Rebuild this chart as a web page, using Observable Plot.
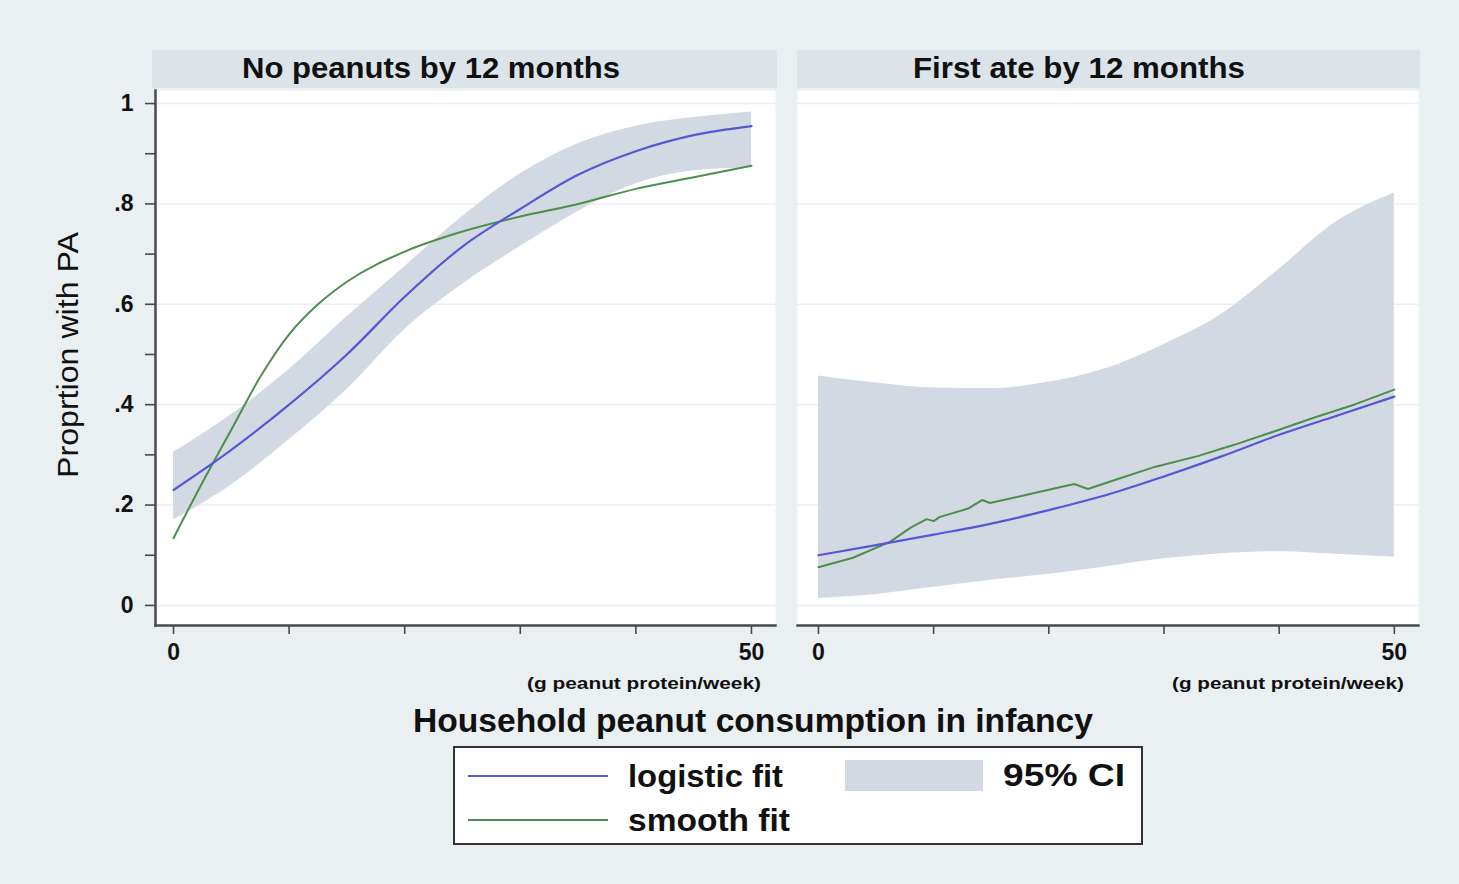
<!DOCTYPE html>
<html>
<head>
<meta charset="utf-8">
<script src="https://cdn.jsdelivr.net/npm/d3@7"></script>
<script src="https://cdn.jsdelivr.net/npm/@observablehq/plot@0.6"></script>
<style>
  html, body { margin: 0; padding: 0; background: #eaeff2; }
  #page { position: relative; width: 1459px; height: 884px; overflow: hidden; background: #eaeff2;
          font-family: "Liberation Sans", Arial, sans-serif; color: #111; }
  .abs { position: absolute; }
</style>
</head>
<body>
<div id="page"></div>
<script>
// ---------------- data ----------------
const panelTitles = ["No peanuts by 12 months", "First ate by 12 months"];
const xTitle = "Household peanut consumption in infancy";
const yTitle = "Proprtion with PA";
const xUnit = "(g peanut protein/week)";
const legendLabels = ["logistic fit", "smooth fit", "95% CI"];

const xTicks = [0, 10, 20, 30, 40, 50];
const xLabelled = [0, 50];
const yMajor = [0, 0.2, 0.4, 0.6, 0.8, 1];
const yMajorLabels = ["0", ".2", ".4", ".6", ".8", "1"];
const yMinor = [0.1, 0.3, 0.5, 0.7, 0.9];

const gridX = [0, 5, 10, 15, 20, 25, 30, 35, 40, 45, 50];

// Left panel: No peanuts by 12 months
const leftLogistic = [0.23, 0.31, 0.40, 0.50, 0.615, 0.715, 0.79, 0.858, 0.905, 0.937, 0.955];
const leftCILow    = [0.17, 0.24, 0.33, 0.43, 0.55, 0.64, 0.715, 0.785, 0.84, 0.866, 0.872];
const leftCIHigh   = [0.305, 0.38, 0.47, 0.575, 0.675, 0.775, 0.86, 0.92, 0.955, 0.972, 0.983];
const leftSmoothX  = [0, 2.5, 5, 7.5, 10, 12.5, 15, 20, 25, 30, 35, 40, 45, 50];
const leftSmoothY  = [0.134, 0.245, 0.35, 0.455, 0.54, 0.60, 0.645, 0.705, 0.745, 0.775, 0.80, 0.83, 0.853, 0.876];

// Right panel: First ate by 12 months
const rightLogistic = [0.10, 0.12, 0.141, 0.163, 0.19, 0.22, 0.257, 0.297, 0.34, 0.378, 0.416];
const rightCILow    = [0.014, 0.022, 0.036, 0.05, 0.062, 0.077, 0.093, 0.103, 0.107, 0.102, 0.096];
const rightCIHigh   = [0.457, 0.443, 0.433, 0.432, 0.445, 0.472, 0.52, 0.58, 0.67, 0.765, 0.822];
const rightSmoothX  = [0, 3, 6.25, 8, 9.4, 10, 10.5, 13, 14.2, 14.9, 18, 22.2, 23.4, 26, 29.2, 33, 36.1, 40, 43, 46.5, 50];
const rightSmoothY  = [0.076, 0.095, 0.127, 0.155, 0.172, 0.168, 0.176, 0.193, 0.21, 0.204, 0.22, 0.242, 0.232, 0.252, 0.276, 0.298, 0.32, 0.35, 0.374, 0.40, 0.43];

// ---------------- styles ----------------
const BLUE = "#5656d6";
const GREEN = "#4c8f4c";
const BAND = "#d2d9e2";
const HEADER = "#dce4ea";
const AXIS = "#4a4a4a";
const GRID = "#eceff2";

const page = document.getElementById("page");

function toRows(xs, ys) { return xs.map((x, i) => ({x, y: ys[i]})); }
function toBand(xs, lo, hi) { return xs.map((x, i) => ({x, lo: lo[i], hi: hi[i]})); }

function panel({xDomain, band, logistic, smooth, smoothCurve, showY, width, marginLeft}) {
  const marks = [
    Plot.frame({fill: "white", stroke: "none"}),
    Plot.gridY(yMajor, {stroke: GRID, strokeOpacity: 1, strokeWidth: 1.5}),
    Plot.areaY(band, {x: "x", y1: "lo", y2: "hi", fill: BAND, curve: "monotone-x"}),
    Plot.line(smooth, {x: "x", y: "y", stroke: GREEN, strokeWidth: 2, curve: smoothCurve}),
    Plot.line(logistic, {x: "x", y: "y", stroke: BLUE, strokeWidth: 2.2, curve: "monotone-x"}),
    Plot.axisX({ticks: xTicks, tickSize: 9, tickPadding: 9, label: null, stroke: AXIS, strokeWidth: 1.6,
      tickFormat: d => xLabelled.includes(d) ? String(d) : ""}),
    Plot.frame({anchor: "bottom", stroke: AXIS, strokeWidth: 2.5})
  ];
  if (showY) {
    marks.push(
      Plot.axisY({ticks: yMajor, tickSize: 10, tickPadding: 12, label: null, stroke: AXIS, strokeWidth: 1.6,
        tickFormat: (d) => yMajorLabels[yMajor.indexOf(d)]}),
      Plot.axisY({ticks: yMinor, tickSize: 10, tickPadding: 12, label: null, stroke: AXIS, strokeWidth: 1.6,
        tickFormat: () => ""}),
      Plot.frame({anchor: "left", stroke: AXIS, strokeWidth: 2.5})
    );
  }
  return Plot.plot({
    width, height: 620,
    marginTop: 5, marginBottom: 80, marginLeft, marginRight: 10,
    x: {domain: xDomain, label: null},
    y: {domain: [-0.04, 1.026], label: null, ...(showY ? {} : {axis: null})},
    style: {background: "transparent", fontFamily: "'Liberation Sans', Arial, sans-serif",
            fontSize: "23px", fontWeight: "bold", color: "#111", overflow: "visible"},
    marks
  });
}

const left = panel({
  xDomain: [-1.56, 52.08],
  band: toBand(gridX, leftCILow, leftCIHigh),
  logistic: toRows(gridX, leftLogistic),
  smooth: toRows(leftSmoothX, leftSmoothY),
  smoothCurve: "monotone-x",
  showY: true, width: 695, marginLeft: 65
});
left.classList.add("abs");
left.style.left = "90px"; left.style.top = "85px";
page.appendChild(left);

const right = panel({
  xDomain: [-1.82, 52.1],
  band: toBand(gridX, rightCILow, rightCIHigh),
  logistic: toRows(gridX, rightLogistic),
  smooth: toRows(rightSmoothX, rightSmoothY),
  smoothCurve: "linear",
  showY: false, width: 641, marginLeft: 10
});
right.classList.add("abs");
right.style.left = "787px"; right.style.top = "85px";
page.appendChild(right);

// ---------------- decorations ----------------
function box(l, t, w, h, css) {
  const d = document.createElement("div");
  d.className = "abs";
  d.style.cssText += `left:${l}px;top:${t}px;width:${w}px;height:${h}px;box-sizing:border-box;${css}`;
  page.appendChild(d);
  return d;
}
function text(str, {x, y, w, size, weight = "bold", rotate = false}) {
  const d = document.createElement("div");
  d.textContent = str;
  d.style.cssText = `position:absolute;left:0;top:0;white-space:nowrap;font-size:${size}px;font-weight:${weight};line-height:1;color:#111;`;
  page.appendChild(d);
  const r = d.getBoundingClientRect();
  const k = w / r.width;
  if (!rotate) {
    d.style.left = x + "px";
    d.style.top = (y - r.height / 2) + "px";
    d.style.transformOrigin = "0 50%";
    d.style.transform = `scaleX(${k})`;
  } else {
    d.style.left = (x - r.width / 2) + "px";
    d.style.top = (y - r.height / 2) + "px";
    d.style.transformOrigin = "50% 50%";
    d.style.transform = `rotate(-90deg) scaleX(${k})`;
  }
  return d;
}

// facet header strips
box(152, 50, 625, 38, `background:${HEADER};`);
box(797, 50, 623, 38, `background:${HEADER};`);
text(panelTitles[0], {x: 242, y: 68, w: 378, size: 29});
text(panelTitles[1], {x: 913, y: 68, w: 332, size: 29});

// unit labels under x axes
text(xUnit, {x: 527, y: 683, w: 234, size: 17});
text(xUnit, {x: 1172, y: 683, w: 232, size: 17});

// axis titles
text(xTitle, {x: 413, y: 720, w: 680, size: 33});
text(yTitle, {x: 68, y: 355, w: 246, size: 30, weight: "normal", rotate: true});

// legend
box(453, 746, 690, 99, "background:white;border:2px solid #333;");
box(468, 775, 140, 2, `background:${BLUE};`);
box(468, 819, 140, 2, `background:${GREEN};`);
box(845, 760, 138, 31, `background:${BAND};`);
text(legendLabels[0], {x: 628, y: 776, w: 155, size: 31});
text(legendLabels[1], {x: 628, y: 820, w: 162, size: 31});
text(legendLabels[2], {x: 1003, y: 775, w: 122, size: 31});
</script>
</body>
</html>
